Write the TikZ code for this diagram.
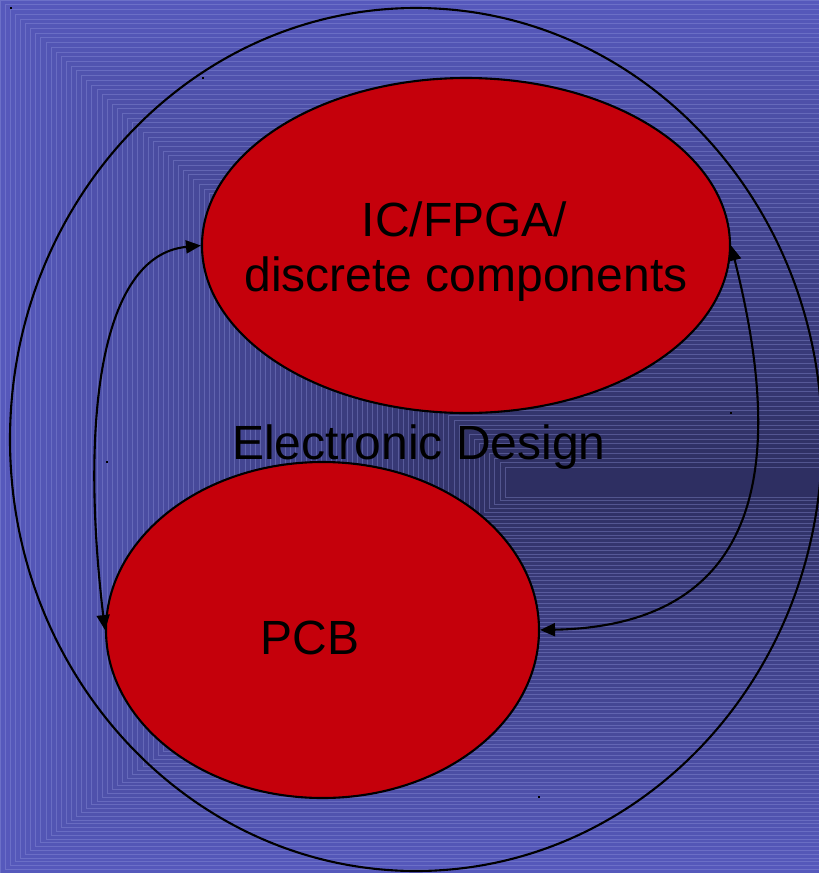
\documentclass[tikz,border=0pt]{standalone}
\usepackage{fontspec}
\setmainfont{Liberation Sans}
\usetikzlibrary{arrows.meta,shapes.geometric}
\definecolor{bgout}{RGB}{86,89,188}
\definecolor{bgin}{RGB}{46,47,97}
\definecolor{bgline}{RGB}{150,155,225}
\definecolor{redfill}{RGB}{197,0,11}
\tikzset{
  blob/.style={ellipse, draw=black, line width=2.1pt, fill=redfill, inner sep=0pt},
  ring/.style={ellipse, draw=black, line width=2.1pt, inner sep=0pt},
  label47/.style={anchor=base, inner sep=0pt, font=\fontsize{48}{56}\selectfont, text=black},
  link/.style={{Triangle[length=15pt,width=13pt]}-{Triangle[length=15pt,width=13pt]}, line width=2.1pt, black},
  speck/.style={fill=black}
}
\begin{document}
\begin{tikzpicture}[x=1pt,y=-1pt]
\useasboundingbox (0,0) rectangle (819,873);
\begin{scope}
  \clip (0,0) rectangle (819,873);
  \fill[bgout] (0,0) rectangle (819,873);
  \foreach \i in {0,...,99}{
    \pgfmathsetmacro\t{\i/100}
    \pgfmathtruncatemacro\p{\i}
    \fill[bgin!\p!bgout] ({510*\t},{472*\t}) rectangle (900,{873-380*\t});
    \draw[bgline, line width=0.6pt, opacity=0.35] (900,{472*\t}) -- ({510*\t},{472*\t}) -- ({510*\t},{873-380*\t}) -- (900,{873-380*\t});
  }
\end{scope}
% outer ring
\node[ring, minimum width=812pt, minimum height=863pt] (outer) at (416,439.5) {};
% red ellipses
\node[blob, minimum width=528pt, minimum height=335pt] (ic) at (466,245.5) {};
\node[blob, minimum width=433pt, minimum height=336pt] (pcb) at (322.5,630) {};
% texts
\node[label47] (ic1) at (464.5,236) {IC/FPGA/};
\node[label47] (ic2) at (466,291.7) {discrete components};
\node[label47] (title) at (419,459) {Electronic Design};
\node[label47] (pcbl) at (310,654.3) {PCB};
% connectors
\draw[link] (ic.west) .. controls (100,255) and (80,420) .. (pcb.west);
\draw[link] (ic.east) .. controls (775,420) and (790,625) .. (pcb.east);
% specks
\fill[speck] (10,7) rectangle (12,9);
\fill[speck] (202,77) rectangle (204,79);
\fill[speck] (106,461) rectangle (108,463);
\fill[speck] (730,412) rectangle (732,414);
\fill[speck] (538,796) rectangle (540,798);
\end{tikzpicture}
\end{document}
